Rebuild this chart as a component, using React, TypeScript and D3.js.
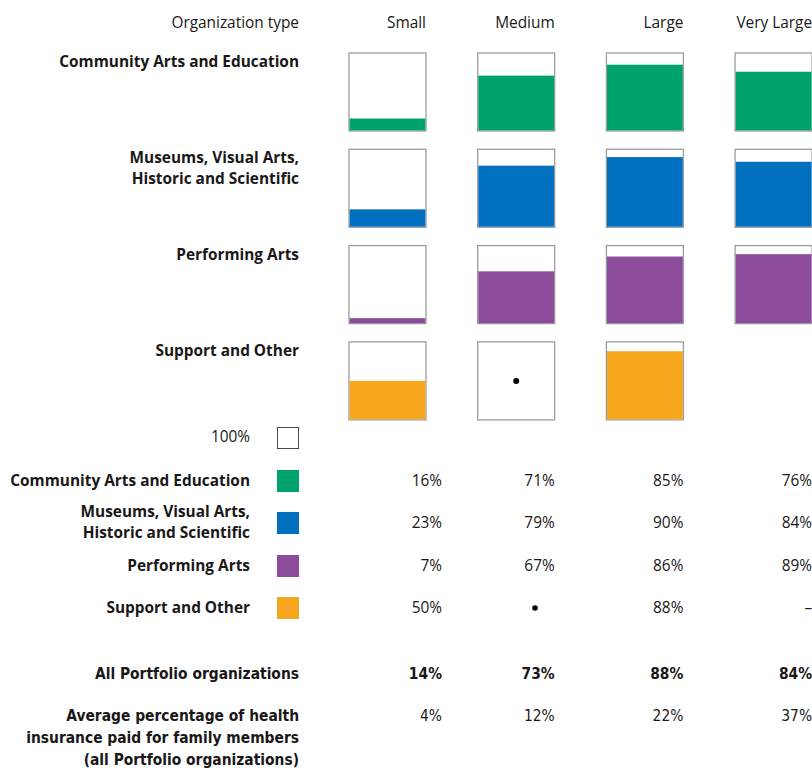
import React from "react";
import * as d3 from "d3";

const sizes = ["Small", "Medium", "Large", "Very Large"];
const categories = [
  "Community Arts and Education",
  "Museums, Visual Arts, Historic and Scientific",
  "Performing Arts",
  "Support and Other",
];
const categoryLines = [
  ["Community Arts and Education"],
  ["Museums, Visual Arts,", "Historic and Scientific"],
  ["Performing Arts"],
  ["Support and Other"],
];
const colors = ["#00A36B", "#0070BF", "#8C4B9B", "#F7A71E"];
// null = insufficient data (dot), undefined = not applicable (dash)
const communityValues: (number | null | undefined)[] = [16, 71, 85, 76];
const museumValues: (number | null | undefined)[] = [23, 79, 90, 84];
const performingValues: (number | null | undefined)[] = [7, 67, 86, 89];
const supportValues: (number | null | undefined)[] = [50, null, 88, undefined];
const allPortfolio = [14, 73, 88, 84];
const familyShare = [4, 12, 22, 37];
const familyLines = [
  "Average percentage of health",
  "insurance paid for family members",
  "(all Portfolio organizations)",
];

const seriesValues = [communityValues, museumValues, performingValues, supportValues];

const FONT = "'Open Sans', sans-serif";
const COND = "'Liberation Sans Narrow', 'DejaVu Sans Condensed', sans-serif";

export default function App() {
  const W = 812, H = 770;
  const boxW = 77, boxH = 78;
  const x = d3.scaleBand<string>().domain(sizes).range([349, 349 + 4 * 128.7]).paddingInner(0).paddingOuter(0);
  const rowY = d3.scaleBand<string>().domain(categories).range([53, 53 + 4 * 96.3]);
  const h = d3.scaleLinear().domain([0, 100]).range([0, boxH]);
  const labelRight = 299;
  const legendRight = 250;
  const valueRight = (i: number) => (i === 0 ? 442 : (x(sizes[i]) as number) + boxW);
  const legendBaselines = [486, 528, 571, 613];
  const legendLabelY = [[486], [517, 538], [571], [613]];
  const legendSquareTop = [470, 512, 555, 597];

  return (
    <svg width={W} height={H} style={{ position: "absolute", left: 0, top: 0, background: "#fff" }}>
      <g fontFamily={FONT} fontSize={15.4} fill="#1a1718">
        <text x={labelRight} y={28} textAnchor="end">Organization type</text>
        {sizes.map((s) => (
          <text key={s} x={(x(s) as number) + boxW} y={28} textAnchor="end">{s}</text>
        ))}

        {categories.map((c, ci) => {
          const top = rowY(c) as number;
          return (
            <g key={c}>
              {categoryLines[ci].map((ln, li) => (
                <text key={li} x={labelRight} y={top + 14 + li * 21} textAnchor="end" fontWeight="bold">{ln}</text>
              ))}
              {sizes.map((s, si) => {
                const v = seriesValues[ci][si];
                const bx = x(s) as number;
                if (v === undefined) return null;
                return (
                  <g key={s}>
                    <rect x={bx} y={top} width={boxW} height={boxH} fill="#fff" stroke="#9d9d9d" strokeWidth={1.3} />
                    {v === null ? (
                      <circle cx={bx + boxW / 2} cy={top + boxH / 2} r={3} fill="#000" />
                    ) : (
                      <rect x={bx + 0.6} y={top + boxH - h(v)} width={boxW - 1.2} height={h(v) - 0.6} fill={colors[ci]} />
                    )}
                  </g>
                );
              })}
            </g>
          );
        })}

        <text x={legendRight} y={442} textAnchor="end">100%</text>
        <rect x={277.5} y={427.5} width={21} height={21} fill="#fff" stroke="#4d4d4d" strokeWidth={1} />

        {categories.map((c, ci) => (
          <g key={"leg" + c}>
            {categoryLines[ci].map((ln, li) => (
              <text key={li} x={legendRight} y={legendLabelY[ci][li]} textAnchor="end" fontWeight="bold">{ln}</text>
            ))}
            <rect x={277} y={legendSquareTop[ci]} width={22} height={22} fill={colors[ci]} />
            {sizes.map((s, si) => {
              const v = seriesValues[ci][si];
              const yb = legendBaselines[ci];
              if (v === null)
                return <circle key={s} cx={535} cy={yb - 5} r={2.8} fill="#000" />;
              if (v === undefined)
                return <text key={s} x={valueRight(si)} y={yb} textAnchor="end">–</text>;
              return <text key={s} x={valueRight(si)} y={yb} textAnchor="end">{v}%</text>;
            })}
          </g>
        ))}
      </g>

      <g fontFamily={COND} fontSize={15.4} fill="#1a1718">
        <text x={labelRight} y={679} textAnchor="end" fontWeight="bold">All Portfolio organizations</text>
        {allPortfolio.map((v, i) => (
          <text key={i} x={valueRight(i)} y={679} textAnchor="end" fontWeight="bold">{v}%</text>
        ))}
        {familyLines.map((ln, li) => (
          <text key={li} x={labelRight} y={721 + li * 22} textAnchor="end" fontWeight="bold">{ln}</text>
        ))}
        {familyShare.map((v, i) => (
          <text key={i} x={valueRight(i)} y={721} textAnchor="end">{v}%</text>
        ))}
      </g>
    </svg>
  );
}
